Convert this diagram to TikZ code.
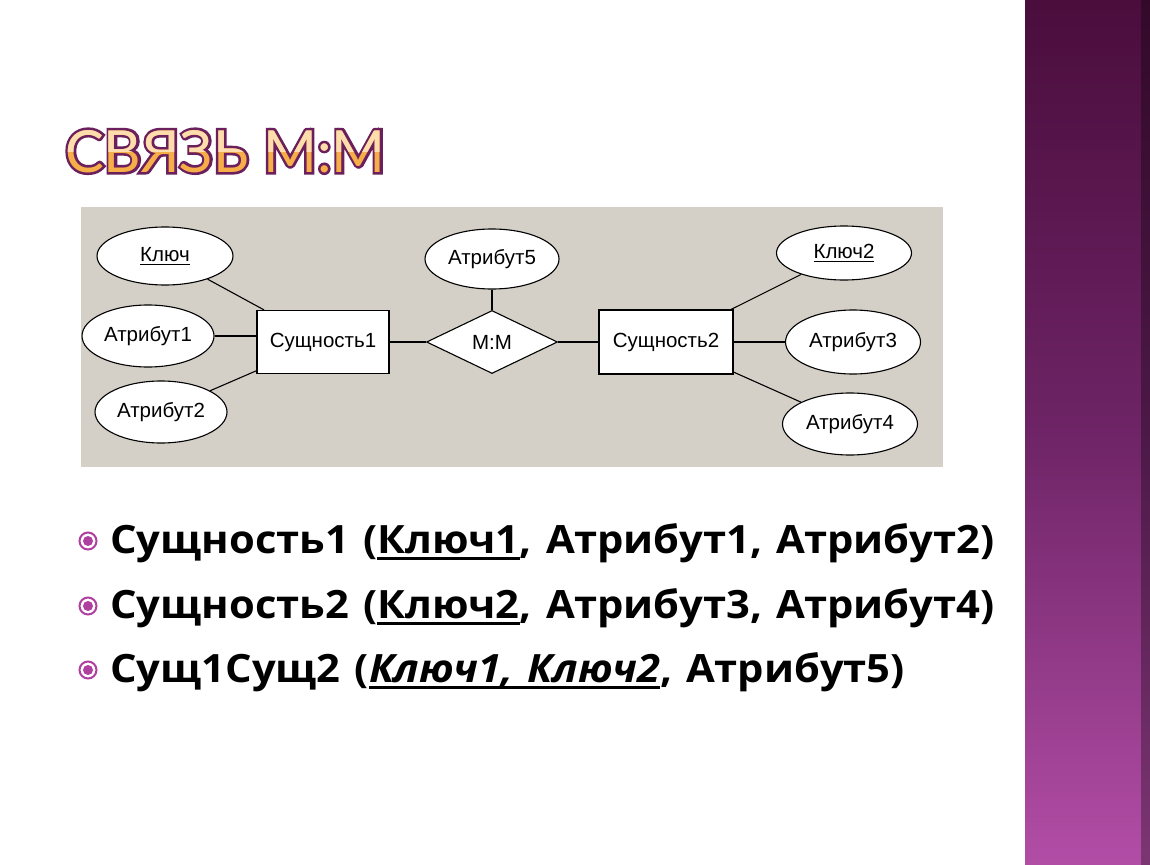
\documentclass[tikz,border=0pt]{standalone}
\usepackage{fontspec}
\setmainfont{Liberation Sans}
\newfontfamily\titlefont{Lato}
\newfontfamily\titleoutfont[FakeBold=9]{Lato}
\newfontfamily\bodyfont{Open Sans}
\usetikzlibrary{shapes.geometric,calc}
\definecolor{grayb}{HTML}{D4D0C8}
\definecolor{bartop}{HTML}{4A0D3C}
\definecolor{barmid}{HTML}{6E2466}
\definecolor{barbot}{HTML}{B24DA6}
\definecolor{titleout}{HTML}{6B1F5C}
\definecolor{titlelight}{HTML}{FDDCAE}
\definecolor{titlemid}{HTML}{F6AE48}
\definecolor{bullet}{HTML}{B040A0}
\newcommand\lbl{\fontsize{20.5}{20.5}\selectfont}
\newcommand\body{\bodyfont\bfseries\fontsize{39}{39}\selectfont\spaceskip=0.34em\relax}
\newcommand\myul[1]{\setbox0\hbox{#1}\rlap{\rule[-7pt]{\wd0}{2.8pt}}\box0}
\newcommand\thinul[1]{\setbox0\hbox{#1}\rlap{\rule[-3pt]{\wd0}{1pt}}\box0}
\newcommand\titletext{СВЯЗЬ М:М}
\newcommand\wide[1]{\scalebox{1.07}[1]{#1}}
\begin{document}
\begin{tikzpicture}[x=1pt,y=-1pt,
  attr/.style={ellipse, draw=black, fill=white, line width=1.1pt, inner sep=0pt, font=\lbl},
  ent/.style={rectangle, draw=black, fill=white, line width=1.1pt, inner sep=0pt, minimum width=132pt, minimum height=63pt, font=\lbl},
  rel/.style={diamond, draw=black, fill=white, line width=1.1pt, inner sep=0pt, minimum width=131pt, minimum height=63pt, font=\lbl},
  conn/.style={line width=1.1pt},
  ttl/.style={anchor=base west, inner sep=0pt, font=\titlefont\fontsize{58}{58}\selectfont},
  ttlout/.style={anchor=base west, inner sep=0pt, font=\titleoutfont\fontsize{58}{58}\selectfont, text=titleout},
  bodyline/.style={anchor=base west, inner sep=0pt, font=\body},
  bul/.style={circle, draw=bullet, line width=2pt, fill=white, minimum size=17pt, inner sep=0pt}
]
\useasboundingbox (0,0) rectangle (1150,864);
\fill[white] (0,0) rectangle (1150,864);
% right decorative bar
\shade[top color=bartop, bottom color=barbot, middle color=barmid] (1025,0) rectangle (1150,864);
\shade[left color=black, right color=black, opacity=0.3] (1141,0) rectangle (1150,864);

% title
\coordinate (tpos) at (65,172);
\node[ttlout] (titleout) at (tpos) {\titletext};
\node[ttl, text=titlemid] (title) at (tpos) {\titletext};
\begin{scope}
  \clip (50,100) rectangle (420,151);
  \node[ttl, text=titlelight] (titletop) at (tpos) {\titletext};
\end{scope}

% diagram background
\fill[grayb] (81,207) rectangle (943,467);

% nodes
\node[attr, minimum width=136pt, minimum height=58pt] (k1) at (165,256) {\thinul{Ключ}};
\node[attr, minimum width=132pt, minimum height=62pt] (a1) at (148,336) {Атрибут1};
\node[attr, minimum width=132pt, minimum height=62pt] (a2) at (161,412) {Атрибут2};
\node[ent] (e1) at (323,342) {Сущность1};
\node[rel] (r) at (492,342) {М:М};
\node[attr, minimum width=134pt, minimum height=60pt] (a5) at (492,259) {Атрибут5};
\node[ent, minimum width=134pt, minimum height=64pt] (e2) at (666,342) {Сущность2};
\node[attr, minimum width=135pt, minimum height=54pt] (k2) at (844,253) {\thinul{Ключ2}};
\node[attr, minimum width=135pt, minimum height=64pt] (a3) at (853,342) {Атрибут3};
\node[attr, minimum width=135pt, minimum height=62pt] (a4) at (850,424) {Атрибут4};

% connectors
\draw[conn] (k1) -- (e1);
\draw[conn] (a1.east) -- (a1.east -| e1.west);
\draw[conn] (a2) -- (e1);
\draw[conn] (e1.east) -- (r.west);
\draw[conn] (a5.south) -- (r.north);
\draw[conn] (r.east) -- (e2.west);
\draw[conn] (e2) -- (k2);
\draw[conn] (e2.east) -- (a3.west);
\draw[conn] (e2) -- (a4);

% bullets
\foreach \i/\y in {1/541, 2/606, 3/670} {
  \node[bul] (b\i) at (88,\y) {};
  \fill[bullet] (b\i.center) circle (5pt);
}
\node[bodyline] (l1) at (110,553) {\wide{Сущность1 (\myul{Ключ1}, Атрибут1, Атрибут2)}};
\node[bodyline] (l2) at (110,618) {\wide{Сущность2 (\myul{Ключ2}, Атрибут3, Атрибут4)}};
\node[bodyline] (l3) at (110,682) {\wide{Сущ1Сущ2 (\myul{\itshape Ключ1, Ключ2}, Атрибут5)}};
\end{tikzpicture}
\end{document}
